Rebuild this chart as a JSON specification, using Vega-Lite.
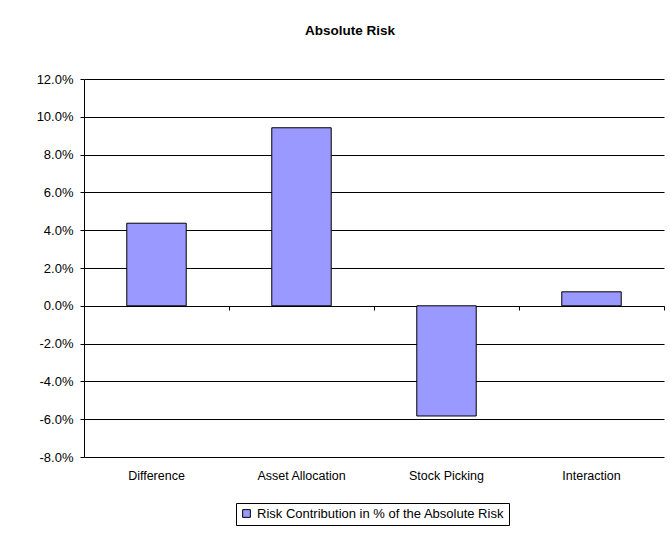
{
  "$schema": "https://vega.github.io/schema/vega-lite/v6.json",
  "autosize": {"type": "none"},
  "width": 580,
  "height": 378,
  "padding": {"left": 84, "top": 79, "right": 6, "bottom": 76},
  "background": "white",
  "title": {"text": "Absolute Risk", "fontSize": 13.5, "fontWeight": "bold", "font": "Liberation Sans", "color": "black", "dx": -24, "offset": 36},
  "config": {
    "font": "Liberation Sans",
    "view": {"stroke": null},
    "axis": {"labelFont": "Liberation Sans", "labelFontSize": 13, "labelColor": "black", "domainColor": "black", "tickColor": "black", "gridColor": "black", "gridOpacity": 1, "domainWidth": 1, "tickWidth": 1, "gridWidth": 1, "labelOverlap": false}
  },
  "layer": [
    {
      "data": {"values": [
        {"Category": "Difference", "Value": 0.0437},
        {"Category": "Asset Allocation", "Value": 0.0942},
        {"Category": "Stock Picking", "Value": -0.0583},
        {"Category": "Interaction", "Value": 0.0074}
      ]},
      "mark": {"type": "bar", "stroke": "black", "strokeWidth": 1},
      "encoding": {
        "x": {"field": "Category", "type": "nominal", "sort": null,
              "scale": {"paddingInner": 0.59, "paddingOuter": 0.295},
              "axis": {"title": null, "orient": "bottom", "labelAngle": 0, "ticks": false, "domain": false, "labelPadding": 12, "labelFontSize": 12.5}},
        "y": {"field": "Value", "type": "quantitative",
              "scale": {"domain": [-0.08, 0.12], "nice": false, "zero": false},
              "axis": {"title": null, "values": [-0.08, -0.06, -0.04, -0.02, 0, 0.02, 0.04, 0.06, 0.08, 0.1, 0.12], "format": ".1%", "labelExpr": "replace(datum.label, '−', '-')", "grid": true, "tickSize": 4, "labelPadding": 7, "labelOverlap": false, "tickCount": 11}},
        "color": {"datum": "Risk Contribution in % of the Absolute Risk", "type": "nominal",
                  "scale": {"range": ["#9999FF"]},
                  "legend": {"title": null, "orient": "none", "legendX": 152, "legendY": 424, "direction": "horizontal", "strokeColor": "black", "padding": 4, "labelLimit": 400,
                             "labelFontSize": 13, "labelFont": "Liberation Sans", "labelColor": "black", "symbolType": "square", "symbolSize": 60,
                             "symbolStrokeColor": "black", "symbolStrokeWidth": 1, "symbolOpacity": 1, "symbolFillColor": "#9999FF"}}
      }
    },
    {
      "data": {"values": [{"b": 0}, {"b": 4}]},
      "mark": {"type": "point", "opacity": 0},
      "encoding": {
        "x": {"field": "b", "type": "quantitative", "scale": {"domain": [0, 4], "nice": false},
              "axis": {"title": null, "orient": "top", "offset": -227, "values": [0, 1, 2, 3, 4], "labels": false, "grid": false, "tickSize": -4, "domain": true}},
        "y": {"datum": 0, "type": "quantitative",
              "axis": {"title": null, "values": [-0.08, -0.06, -0.04, -0.02, 0, 0.02, 0.04, 0.06, 0.08, 0.1, 0.12], "format": ".1%", "labelExpr": "replace(datum.label, '−', '-')", "grid": true, "tickSize": 4, "labelPadding": 7, "labelOverlap": false, "tickCount": 11}}
      }
    }
  ],
  "resolve": {"scale": {"x": "independent"}, "axis": {"x": "independent"}}
}
